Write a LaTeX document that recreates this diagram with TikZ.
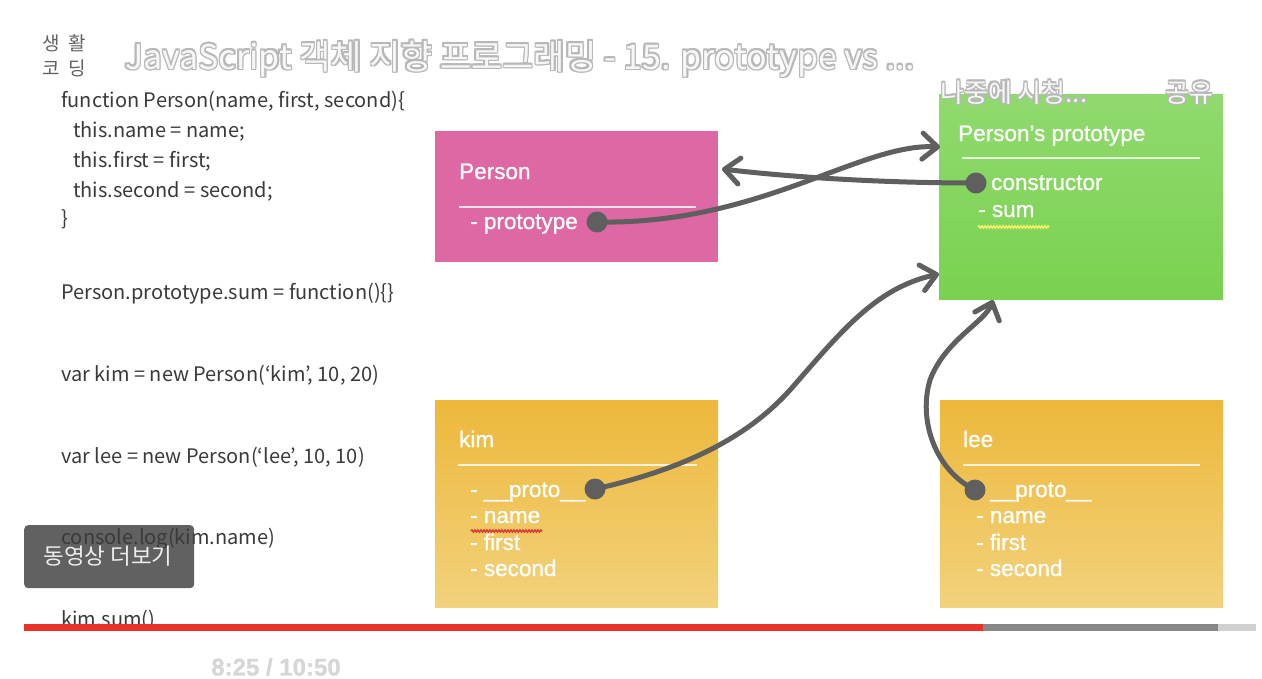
\documentclass[tikz,border=0pt]{standalone}
\usepackage{fontspec}
\setmainfont{Liberation Sans}
\newfontfamily\krfont{Noto Sans CJK KR}
\newfontfamily\hvfont[FakeBold=0.9]{Liberation Sans}
\usetikzlibrary{arrows.meta,decorations.pathmorphing}
\definecolor{arrowgray}{HTML}{5F5F5F}
\definecolor{pinkbox}{HTML}{DE68A4}
\definecolor{greentop}{HTML}{90D96F}
\definecolor{greenbot}{HTML}{7AD24F}
\definecolor{ambertop}{HTML}{EDB83B}
\definecolor{amberbot}{HTML}{F2D27C}
\definecolor{ytred}{HTML}{E8322A}
\definecolor{bargray}{HTML}{878787}
\definecolor{barlight}{HTML}{D0D0D0}
\definecolor{codegray}{HTML}{3A3A3A}
\definecolor{squigyellow}{HTML}{F4F06A}
\definecolor{squigred}{HTML}{D9403A}
\newcommand\glowtxt[3]{%
  \leavevmode
  \rlap{\color{#1}\hspace*{#2}#3}\rlap{\color{#1}\hspace*{-#2}#3}%
  \rlap{\color{#1}\raisebox{#2}{#3}}\rlap{\color{#1}\raisebox{-#2}{#3}}%
  \rlap{\color{#1}\hspace*{#2}\raisebox{#2}{#3}}\rlap{\color{#1}\hspace*{-#2}\raisebox{#2}{#3}}%
  \rlap{\color{#1}\hspace*{#2}\raisebox{-#2}{#3}}\rlap{\color{#1}\hspace*{-#2}\raisebox{-#2}{#3}}%
  #3}
\begin{document}
\begin{tikzpicture}[x=1pt,y=-1pt,
  codetxt/.style={anchor=base west, inner sep=0, font=\krfont\fontsize{20}{21}\selectfont, text=codegray},
  boxtxt/.style={anchor=base west, inner sep=0, font=\hvfont\fontsize{22.5}{24}\selectfont, text=white},
  sepline/.style={draw=white, line width=1.3pt, draw opacity=0.8},
  dot/.style={circle, fill=arrowgray, minimum size=21pt, inner sep=0},
  link/.style={draw=arrowgray, line width=5pt, line cap=round,
    -{Straight Barb[length=15pt,width=26pt,round]}},
  squig/.style={decorate, decoration={snake, amplitude=1pt, segment length=3pt}, line width=1.6pt},
  card/.style={anchor=north west, inner sep=0, draw=none},
  overlaytxt/.style={anchor=base west, inner sep=0, text=white!97!black}]
\useasboundingbox (0,0) rectangle (1262,678);
\fill[white] (0,0) rectangle (1262,678);

% ---- code listing ----
\node[codetxt] (c1) at (61,107) {function Person(name, first, second)\{};
\node[codetxt] (c2) at (73,137) {this.name = name;};
\node[codetxt] (c3) at (73,167) {this.first = first;};
\node[codetxt] (c4) at (73,197) {this.second = second;};
\node[codetxt] (c5) at (61,225) {\}};
\node[codetxt] (c6) at (61,299) {Person.prototype.sum = function()\{\}};
\node[codetxt] (c7) at (61,381) {var kim = new Person(‘kim’, 10, 20)};
\node[codetxt] (c8) at (61,463) {var lee = new Person(‘lee’, 10, 10)};

% ---- more videos button ----
\node[card, rounded corners=4pt, fill=black!62, minimum width=170pt, minimum height=63pt] (more) at (24,525) {};
\node[codetxt] (c9) at (61,544) {console.log(kim.name)};
\node[anchor=center, inner sep=0, font=\krfont\fontsize{22.5}{23}\selectfont, text=white!93!black] (moretxt) at (108,556) {동영상 더보기};
\node[codetxt] (c10) at (61,626) {kim.sum()};

% ---- cards ----
\node[card, fill=pinkbox, minimum width=283pt, minimum height=131pt] (person) at (435,131) {};
\node[card, top color=greentop, bottom color=greenbot, minimum width=284pt, minimum height=205pt] (proto) at (939,94) {};
\node[card, top color=ambertop, bottom color=amberbot, minimum width=283pt, minimum height=207pt] (kim) at (435,400) {};
\node[card, top color=ambertop, bottom color=amberbot, minimum width=283pt, minimum height=207pt] (lee) at (940,400) {};

% Person
\node[boxtxt] (ptitle) at (459,179) {Person};
\draw[sepline] (459,207) -- (696,207);
\node[boxtxt] (pprop) at (470,229) {- prototype};
% Person's prototype
\node[boxtxt] (gtitle) at (958,141) {Person’s prototype};
\draw[sepline] (962,158) -- (1200,158);
\node[boxtxt] (gcons) at (991,190) {constructor};
\node[boxtxt] (gsum) at (978,217) {- sum};
\draw[squig, draw=squigyellow] (978,227) -- (1049,227);
% kim
\node[boxtxt] (ktitle) at (459,447) {kim};
\draw[sepline] (458,465) -- (697,465);
\node[boxtxt] (kproto) at (470,497) {- \_\_proto\_\_};
\node[boxtxt] (kname) at (470,523) {- name};
\draw[squig, draw=squigred] (471,531) -- (542,531);
\node[boxtxt] (kfirst) at (470,550) {- first};
\node[boxtxt] (ksecond) at (470,576) {- second};
% lee
\node[boxtxt] (ltitle) at (963,447) {lee};
\draw[sepline] (963,465) -- (1200,465);
\node[boxtxt] (lproto) at (990,497) {\_\_proto\_\_};
\node[boxtxt] (lname) at (976,523) {- name};
\node[boxtxt] (lfirst) at (976,550) {- first};
\node[boxtxt] (lsecond) at (976,576) {- second};

% ---- connectors ----
\coordinate (tipA) at (940,147);
\coordinate (tipB) at (722,169);
\coordinate (midC) at (790,390);
\coordinate (tipC) at (939,274);
\coordinate (midD) at (930,380);
\coordinate (tipD) at (993,300);
\node[dot] (pdot) at (597,222) {};
\node[dot] (cdot) at (976,183) {};
\node[dot] (kdot) at (595,489) {};
\node[dot] (ldot) at (975,490) {};
\draw[link] (pdot.center) .. controls (760,225) and (860,143) .. (tipA);
\draw[link] (cdot.center) .. controls (880,183) and (790,177) .. (tipB);
\draw[link] (kdot.center) .. controls (680,470) and (745,440) .. (midC)
  .. controls (840,333) and (875,288) .. (tipC);
\draw[link] (ldot.center) .. controls (935,470) and (918,420) .. (midD)
  .. controls (945,340) and (985,322) .. (tipD);

% ---- video overlays ----
\node[anchor=base west, inner sep=0, font=\krfont\fontsize{19}{19}\selectfont, text=black!62] (logo1) at (42,50) {생\hspace{0.45em}활};
\node[anchor=base west, inner sep=0, font=\krfont\fontsize{19}{19}\selectfont, text=black!62] (logo2) at (42,75) {코\hspace{0.45em}딩};
\node[overlaytxt, font=\krfont\fontsize{34}{35}\selectfont] (title) at (125,69)
  {\glowtxt{black!28}{1.3pt}{JavaScript 객체 지향 프로그래밍 - 15. prototype vs ...}};
\node[overlaytxt, font=\krfont\fontsize{26}{27}\selectfont] (later) at (940,102)
  {\glowtxt{black!28}{1.1pt}{나중에 시청...}};
\node[overlaytxt, font=\krfont\fontsize{26}{27}\selectfont] (share) at (1165,102)
  {\glowtxt{black!28}{1.1pt}{공유}};

% progress bar
\fill[ytred] (24,624) rectangle (983,631);
\fill[bargray] (983,624) rectangle (1218,631);
\fill[barlight] (1218,624) rectangle (1256,631);
\node[anchor=center, inner sep=0, font=\hvfont\bfseries\fontsize{24}{24}\selectfont, text=black!16] (time) at (276,667) {8:25 / 10:50};
\end{tikzpicture}
\end{document}
